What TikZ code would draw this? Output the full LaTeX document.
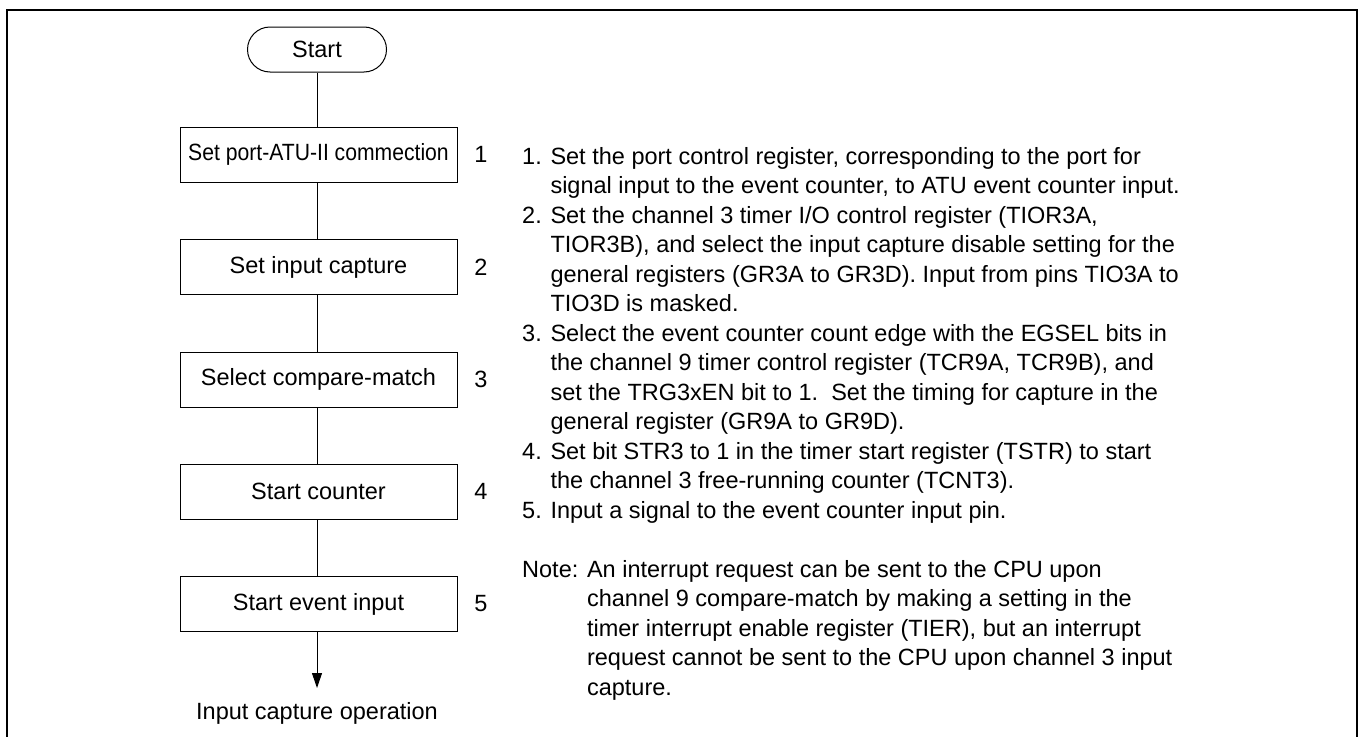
\documentclass[tikz,border=0pt]{standalone}
\usepackage{fontspec}
\setmainfont{Liberation Sans}
\usepackage{graphicx}
\usepackage{tikz}
\usetikzlibrary{arrows.meta,shapes.misc}
\newcommand{\hang}{\hphantom{1. }}
\newcommand{\nhang}{\hphantom{Note: }}

\begin{document}
\begin{tikzpicture}[x=1pt,y=-1pt,
 font=\fontsize{23.5}{29.5}\selectfont,
 term/.style={draw,rounded rectangle,minimum width=139pt,minimum height=45pt,inner sep=0pt},
 stepbox/.style={draw,minimum width=277pt,minimum height=55pt,inner sep=0pt},
 num/.style={inner sep=0pt},
 flow/.style={line width=1pt},
 arr/.style={flow,-{Triangle[length=15pt,width=10pt]}}]
 \useasboundingbox (0,0) rectangle (1362,736);
 \draw[line width=2pt] (7,740) -- (7,10) -- (1357,10) -- (1357,740);
 \node[term,line width=1pt] (start) at (317,49.5) {Start};
 \node[stepbox,line width=1pt] (s1) at (318.5,154.5) {\scalebox{0.9}[1]{Set port-ATU-II commection}};
 \node[stepbox,line width=1pt] (s2) at (318.5,267) {Set input capture};
 \node[stepbox,line width=1pt] (s3) at (318.5,379.5) {Select compare-match};
 \node[stepbox,line width=1pt] (s4) at (318.5,491.5) {Start counter};
 \node[stepbox,line width=1pt] (s5) at (318.5,604) {Start event input};
 \node[num] (n1) at (481,154.5) {1};
 \node[num] (n2) at (481,267) {2};
 \node[num] (n3) at (481,379.5) {3};
 \node[num] (n4) at (481,491.5) {4};
 \node[num] (n5) at (481,604) {5};
 \coordinate (tip) at (317,688);
 \node (res) at (317,713) {Input capture operation};
 \draw[flow] (start) -- (start|-s1.north); \draw[flow] (start|-s1.south) -- (start|-s2.north);
 \draw[flow] (start|-s2.south) -- (start|-s3.north); \draw[flow] (start|-s3.south) -- (start|-s4.north);
 \draw[flow] (start|-s4.south) -- (start|-s5.north);
 \draw[arr] (start|-s5.south) -- (tip);
 \node[anchor=north west,align=left,inner sep=0pt] (notes) at (522,147) {1. Set the port control register, corresponding to the port for\\
 \hang signal input to the event counter, to ATU event counter input.\\
 2. Set the channel 3 timer I/O control register (TIOR3A,\\
 \hang TIOR3B), and select the input capture disable setting for the\\
 \hang general registers (GR3A to GR3D). Input from pins TIO3A to\\
 \hang TIO3D is masked.\\
 3. Select the event counter count edge with the EGSEL bits in\\
 \hang the channel 9 timer control register (TCR9A, TCR9B), and\\
 \hang set the TRG3xEN bit to 1.\ \ Set the timing for capture in the\\
 \hang general register (GR9A to GR9D).\\
 4. Set bit STR3 to 1 in the timer start register (TSTR) to start\\
 \hang the channel 3 free-running counter (TCNT3).\\
 5. Input a signal to the event counter input pin.\\[29.5pt]
 Note: An interrupt request can be sent to the CPU upon\\
 \nhang channel 9 compare-match by making a setting in the\\
 \nhang timer interrupt enable register (TIER), but an interrupt\\
 \nhang request cannot be sent to the CPU upon channel 3 input\\
 \nhang capture.};
\end{tikzpicture}
\end{document}
